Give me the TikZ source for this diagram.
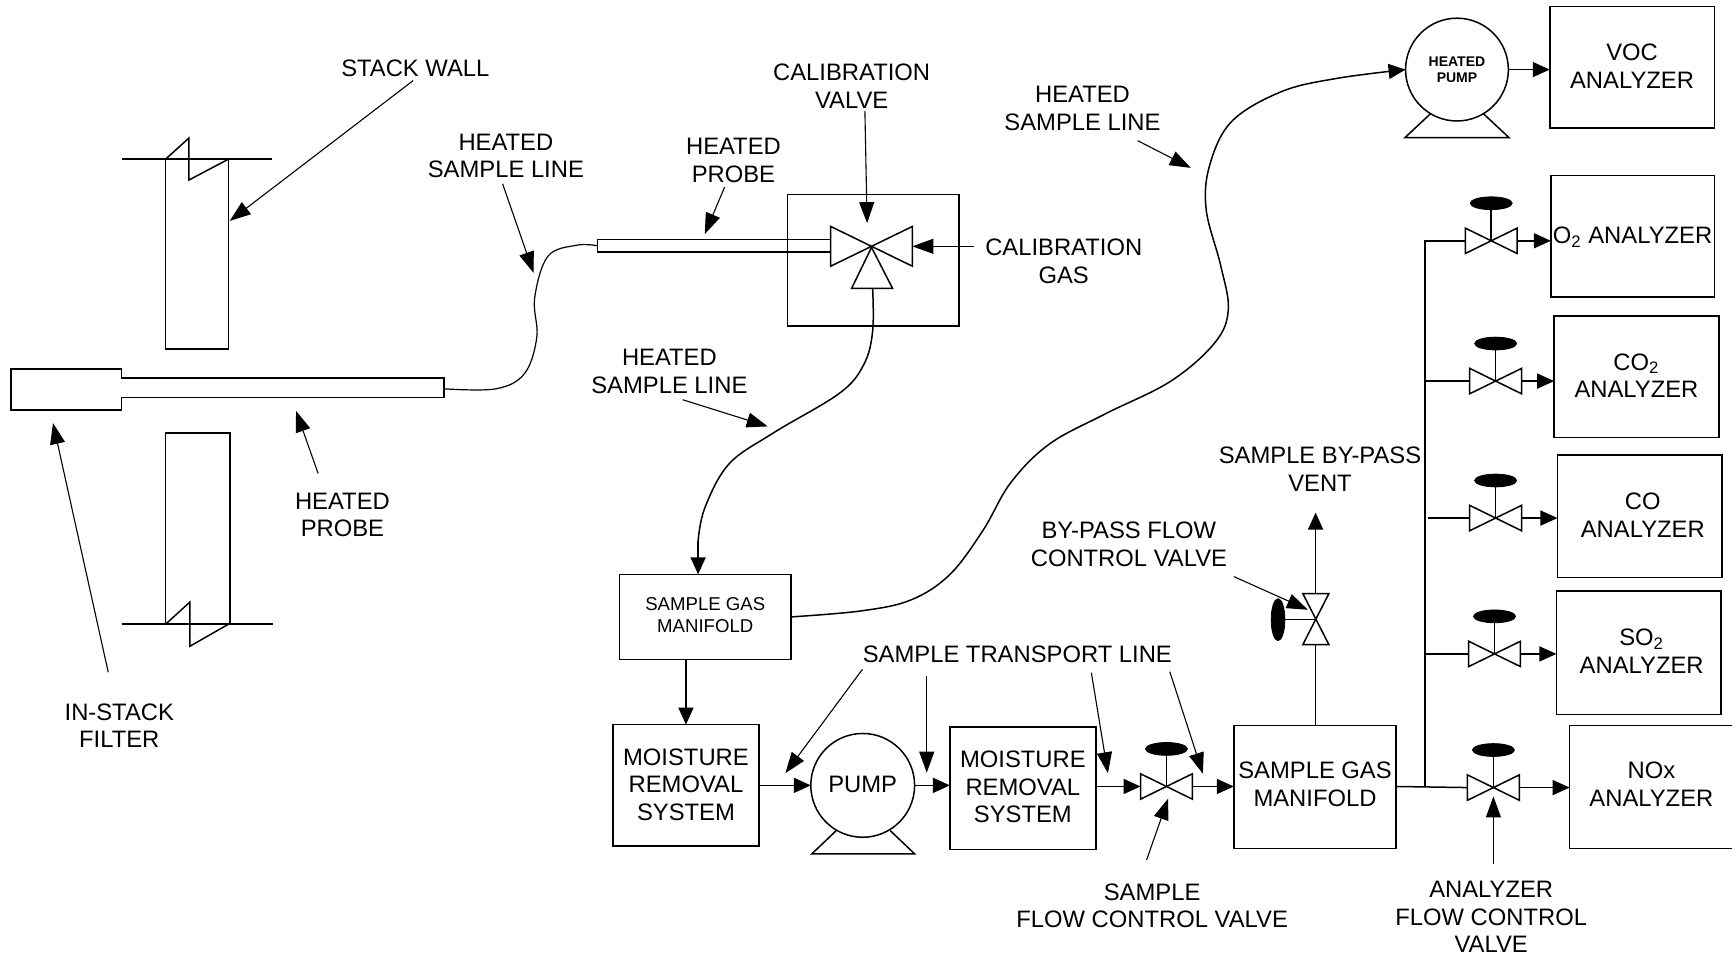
\documentclass[tikz,border=0pt]{standalone}
\usepackage{fontspec}
\setmainfont{Liberation Sans}
\usetikzlibrary{arrows.meta}
\tikzset{
  pipe/.style={line width=0.75pt,line join=miter},
  thin pipe/.style={line width=0.6pt},
  flow/.style={pipe,-{Triangle[length=8.5pt,width=7.5pt]}},
  lab/.style={line width=0.55pt,-{Triangle[length=10.5pt,width=7.5pt]}},
  txt/.style={align=center,font=\fontsize{11.9}{13.8}\selectfont,inner sep=0pt},
  blockbox/.style={draw,pipe,inner sep=0pt,outer sep=0pt,align=center,font=\fontsize{11.9}{13.8}\selectfont},
  smallbox/.style={blockbox,font=\fontsize{9.3}{11}\selectfont},
  pumpbody/.style={draw,pipe,circle,inner sep=0pt,outer sep=0pt,align=center,minimum size=51.9pt,font=\fontsize{11.9}{13.8}\selectfont},
  actuator/.style={fill=black,draw=black},
}
% name, x1, y1, x2, y2, style, text
\newcommand\blockat[7]{%
  \pgfmathsetmacro\bw{(#4-#2)*0.5523}%
  \pgfmathsetmacro\bh{(#5-#3)*0.5523}%
  \node[#6,minimum width=\bw pt,minimum height=\bh pt] (#1) at ({(#2+#4)/2},{(#3+#5)/2}) {#7};}
% horizontal offset (pt), raise (pt), lines of text inside a block
\newcommand\shifted[3]{\hspace*{#1pt}\raisebox{#2pt}[\height][\depth]{\begin{tabular}{@{}c@{}}#3\end{tabular}}}
% name, x, y : valve with a wheel above
\newcommand\hvalve[3]{%
  \coordinate (#1) at (#2,#3);
  \coordinate (#1l) at (#2-23.5,#3);
  \coordinate (#1r) at (#2+23.5,#3);
  \draw[pipe] (#2-23.5,#3-11.5) -- (#2-23.5,#3+11.5) -- (#2+23.5,#3-11.5) -- (#2+23.5,#3+11.5) -- cycle;
  \draw[pipe] (#2,#3) -- (#2,#3-34);
  \fill[actuator] (#2,#3-34) ellipse [x radius=19,y radius=5.8];}
\begin{document}
\begin{tikzpicture}[x=0.5523pt,y=-0.5523pt]
\useasboundingbox (0,0) rectangle (1568,868.2);

% stack wall
\draw[pipe] (110,144) -- (246,144);
\draw[pipe] (150,144) -- (150,316) -- (207,316) -- (207,144);
\draw[pipe] (150,144) -- (171,125) -- (171,163) -- (207,144);
\draw[pipe] (110,565) -- (247,565);
\draw[pipe] (208,565) -- (208,392) -- (150,392) -- (150,565);
\draw[pipe] (150,565) -- (172,545) -- (172,585) -- (207,565);

% in-stack filter and probe
\draw[pipe] (10,334) -- (110,334) -- (110,342) -- (402,342) -- (402,360) -- (110,360) -- (110,371) -- (10,371) -- cycle;
\coordinate (probeEnd) at (402,352);

% upper probe, box, calibration valve
\blockat{probeB}{541}{217}{752}{228}{blockbox}{}
\blockat{calBox}{713}{176}{868}{295}{blockbox}{}
\coordinate (cv) at (789,224);
\draw[pipe] (752,205) -- (752,241) -- (826,205) -- (826,241) -- cycle;
\draw[pipe] (cv) -- (771,261) -- (808,261) -- cycle;
\coordinate (cvb) at (790,261);
\coordinate (cvr) at (826,223);

\draw[thin pipe] plot[smooth,tension=0.6] coordinates {(probeEnd) (449,352) (475,338) (486,305) (484,270) (496,232) (522,222) (probeB.west)};

% manifolds and blocks
\blockat{sg1}{561}{520}{716}{597}{smallbox}{\shifted{0}{0}{SAMPLE GAS\\MANIFOLD}}
\blockat{m1}{555}{656}{687}{766}{blockbox}{\shifted{0}{-1}{MOISTURE\\REMOVAL\\SYSTEM}}
\node[pumpbody] (pump) at (781,711) {\raisebox{0.5pt}[\height][\depth]{PUMP}};
\draw[pipe] (757,752) -- (735,773) -- (828,773) -- (806,752);
\blockat{m2}{860}{658}{992}{769}{blockbox}{\shifted{0}{-0.8}{MOISTURE\\REMOVAL\\SYSTEM}}
\hvalve{sv}{1056}{712}
\blockat{sg2}{1117}{657}{1264}{768}{blockbox}{\shifted{0}{0}{SAMPLE GAS\\MANIFOLD}}

% heated pump and VOC
\node[pumpbody,minimum size=51.4pt,font=\fontsize{7}{7.8}\selectfont\bfseries] (hp) at (1319,63) {HEATED\\PUMP};
\draw[pipe] (1295,103) -- (1272,124.5) -- (1366,124.5) -- (1343,103);
\blockat{voc}{1403}{6}{1552}{116}{blockbox}{\shifted{0}{-0.8}{VOC\\ANALYZER}}

% analyzers
\blockat{o2}{1404}{159}{1552}{269}{blockbox}{\shifted{0}{-1}{O\textsubscript{2} ANALYZER}}
\blockat{co2}{1407}{286}{1556}{396}{blockbox}{\shifted{0}{-1}{CO\textsubscript{2}\\ANALYZER}}
\blockat{co}{1410}{412}{1559}{523}{blockbox}{\shifted{3}{-0.8}{CO\\ANALYZER}}
\blockat{so2}{1409}{535}{1558}{647}{blockbox}{\shifted{3}{-0.5}{SO\textsubscript{2}\\ANALYZER}}
\blockat{nox}{1421}{657}{1569}{768}{blockbox}{\shifted{0}{0}{NOx\\ANALYZER}}

\hvalve{vo2}{1350}{218}
\hvalve{vco2}{1354}{345}
\hvalve{vco}{1354}{469}
\hvalve{vso2}{1353}{592}
\hvalve{vnox}{1352}{713}

% bus
\coordinate (busBot) at (1290,712);
\coordinate (busTop) at (1290,218);
\draw[pipe] (sg2.east |- busBot) -- (vnoxl);
\draw[pipe] (busBot) -- (busTop) -- (vo2l);
\draw[pipe] (busTop |- vco2l) -- (vco2l);
\draw[pipe] (1293,469) -- (vcol);
\draw[pipe] (busTop |- vso2l) -- (vso2l);
\draw[flow] (vo2r) -- (o2.west |- vo2r);
\draw[flow] (vco2r) -- (co2.west |- vco2r);
\draw[flow] (vcor) -- (co.west |- vcor);
\draw[flow] (vso2r) -- (so2.west |- vso2r);
\draw[flow] (vnoxr) -- (nox.west |- vnoxr);

% bypass valve
\coordinate (bv) at (1191,561);
\draw[pipe] (1179.5,537.5) -- (1203,537.5) -- (1179.5,583.5) -- (1203,583.5) -- cycle;
\draw[pipe] (bv) -- (1157,561);
\fill[actuator] (1157,561) ellipse [x radius=6.2,y radius=19];
\coordinate (bvt) at (1191,537.5);
\coordinate (bvb) at (1191,583.5);
\coordinate (vent) at (1191,464);
\draw[pipe] (sg2.north -| bvb) -- (bvb);
\draw[flow] (bvt) -- (vent);

% main flow
\draw[flow] (sg1.south -| m1.north) -- (m1.north);
\draw[flow] (m1.east) -- (pump.west);
\draw[flow] (pump.east) -- (m2.west |- pump.east);
\draw[flow] (m2.east |- svl) -- (svl);
\draw[flow] (svr) -- (sg2.west |- svr);

% heated sample lines
\coordinate (l2a) at (632,490);
\draw[pipe] plot[smooth,tension=0.6] coordinates {(cvb) (790,300) (782,330) (760,356) (700,392) (660,420) (638,460) (l2a)};
\draw[flow] (l2a) -- (sg1.north -| l2a);
\draw[flow] plot[smooth,tension=0.6] coordinates {(sg1.east) (780,553) (825,543) (860,520) (890,480) (915,437) (950,402) (1000,375) (1060,345) (1100,310) (1112,280) (1105,240) (1092,190) (1095,150) (1115,110) (1160,83) (1210,71) (hp.west)};
\draw[flow] (hp.east) -- (voc.west |- hp.east);

% labels
\node[txt] (tStack) at (376,62) {STACK WALL};
\node[txt] (tHsl1) at (458,141) {HEATED\\SAMPLE LINE};
\node[txt] (tHp2) at (664,145) {HEATED\\PROBE};
\node[txt] (tCv) at (771,78) {CALIBRATION\\VALVE};
\node[txt] (tHsl3) at (980,98) {HEATED\\SAMPLE LINE};
\node[txt] (tCg) at (963,236.5) {CALIBRATION\\GAS};
\node[txt] (tHsl2) at (606,336.5) {HEATED\\SAMPLE LINE};
\node[txt] (tHp1) at (310,466) {HEATED\\PROBE};
\node[txt] (tFilter) at (108,657) {IN-STACK\\FILTER};
\node[txt] (tVent) at (1195,425) {SAMPLE BY-PASS\\VENT};
\node[txt] (tBp) at (1022,492.5) {BY-PASS FLOW\\CONTROL VALVE};
\node[txt] (tStl) at (921,592) {SAMPLE TRANSPORT LINE};
\node[txt] (tSfc) at (1043,820) {SAMPLE\\FLOW CONTROL VALVE};
\node[txt] (tAfc) at (1350,830) {ANALYZER\\FLOW CONTROL\\VALVE};

% leader arrows
\draw[lab] (tStack.south) ++(-2,3) -- (208,200);
\draw[lab] (tFilter.north) ++(-10,-28) -- (48,383);
\draw[lab] (tHp1.north) ++(-22,-17) -- (268,372);
\draw[lab] (tHsl1.south) ++(-3,5) -- (483,247);
\draw[lab] (tHp2.south) ++(-8,4) -- (638,212);
\draw[lab] (tCv.south) ++(12,2) -- (785,202);
\draw[lab] (tCg.west |- cvr) ++(-10,0) -- (cvr);
\draw[lab] (tHsl2.south) ++(12,5) -- (695,386);
\draw[lab] (tHsl3.south) ++(50,9) -- (1078,152);
\draw[lab] (tBp.south) ++(95,9) -- (1184,552);
\draw[lab] (tStl.south west) ++(0,6) -- (711,700);
\draw[lab] (839,612) -- (839,699.5);
\draw[lab] (988,609) -- (1003,700);
\draw[lab] (1059,608) -- (1089,700.5);
\draw[lab] (tSfc.north) ++(-5,-21) -- (1057.5,723);
\draw[lab] (tAfc.north) ++(2,-15) -- (1352,721);
\end{tikzpicture}
\end{document}
